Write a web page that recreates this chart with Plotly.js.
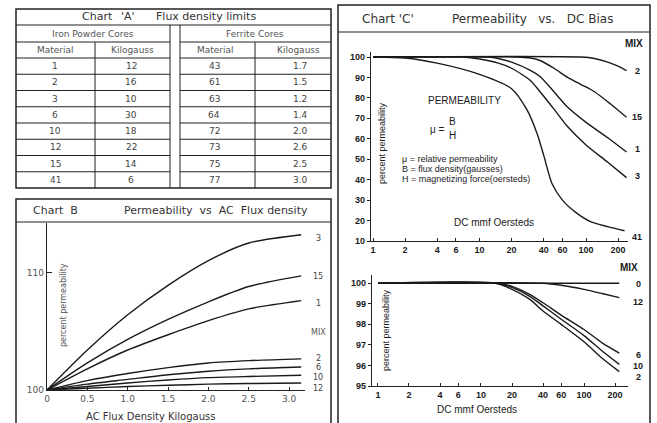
<!DOCTYPE html>
<html><head><meta charset="utf-8">
<script src="https://cdn.plot.ly/plotly-3.0.1.min.js"></script>
<style>html,body{margin:0;padding:0;background:#fff}#c{width:657px;height:423px}</style>
</head><body><div id="c"></div>
<script>
// ---------- Chart A data ----------
const ironMaterial = ['1','2','3','6','10','12','15','41'];
const ironKilogauss = ['12','16','10','30','18','22','14','6'];
const ferriteMaterial = ['43','61','63','64','72','73','75','77'];
const ferriteKilogauss = ['1.7','1.5','1.2','1.4','2.0','2.6','2.5','3.0'];

// ---------- Chart B data (AC flux density, kilogauss) ----------
const bFlux = [0, 0.5, 1.0, 1.5, 2.0, 2.5, 3.15];
const bMix = ['3','15','1','2','6','10','12'];
const bMix3  = [100, 103.4, 106.4, 108.9, 111.0, 112.5, 113.2];
const bMix15 = [100, 102.3, 104.3, 106.0, 107.5, 108.8, 109.7];
const bMix1  = [100, 101.8, 103.4, 104.7, 105.9, 106.9, 107.6];
const bMix2  = [100, 100.8, 101.4, 101.9, 102.3, 102.5, 102.65];
const bMix6  = [100, 100.5, 100.9, 101.3, 101.6, 101.8, 101.95];
const bMix10 = [100, 100.3, 100.6, 100.85, 101.05, 101.15, 101.25];
const bMix12 = [100, 100.15, 100.3, 100.4, 100.5, 100.55, 100.6];
const bXTicks = [0, 0.5, 1, 1.5, 2, 2.5, 3];
const bXTickText = ['0','0.5','1.0','1.5','2.0','2.5','3.0'];

// ---------- Chart C upper data (DC mmf Oersteds) ----------
const cMix2x  = [1, 90, 120, 160, 200, 240];
const cMix2y  = [100, 100, 99.3, 97.5, 95.5, 93.3];
const cMix15x = [1, 22, 30, 37, 50, 67, 90, 120, 170, 240];
const cMix15y = [100, 100, 99.5, 98.3, 94.5, 90, 86.5, 83, 77, 70.5];
const cMix1x  = [1, 12, 15, 20, 30, 37, 50, 67, 100, 160, 240];
const cMix1y  = [100, 100, 99.3, 97.5, 93.5, 90.5, 83, 75.5, 68, 60.5, 53.5];
const cMix3x  = [1, 7, 10, 15, 20, 30, 37, 50, 67, 100, 160, 240];
const cMix3y  = [100, 100, 99, 97, 94.5, 88.5, 83, 74.5, 66, 57, 48.5, 41];
const cMix41x = [1, 2, 4, 10, 20, 28, 35, 40, 48, 60, 80, 110, 160, 230];
const cMix41y = [100, 99.5, 97, 91.5, 84.5, 74, 62, 52, 38, 30, 24, 19.5, 17, 15];
const cXTicks = [1, 2, 4, 6, 10, 20, 40, 60, 100, 200];
const cYTicks = [10, 20, 30, 40, 50, 60, 70, 80, 90, 100];

// ---------- Chart C lower data ----------
const dMix0x  = [1, 220];
const dMix0y  = [100, 100];
const dMix12x = [1, 40, 60, 100, 150, 220];
const dMix12y = [100, 100, 99.9, 99.7, 99.5, 99.3];
const dX = [1, 14, 20, 30, 40, 60, 100, 150, 220];
const dMix6y  = [100, 100, 99.85, 99.45, 99.05, 98.45, 97.75, 97.1, 96.6];
const dMix10y = [100, 100, 99.8, 99.35, 98.9, 98.25, 97.45, 96.7, 96.05];
const dMix2y  = [100, 100, 99.7, 99.2, 98.65, 98.0, 97.15, 96.35, 95.7];
const dYTicks = [95, 96, 97, 98, 99, 100];

// ---------- helpers ----------
const W = 657, H = 423;
const X = p => p / W;
const Y = p => 1 - p / H;
const INK = '#1a1a1a';
const THIN = 'DejaVu Sans, sans-serif';
const HELV = 'Liberation Sans, Arial, sans-serif';

const lineStyle = {color: INK, width: 1.4, shape: 'spline', smoothing: 0.7};
function tr(x, y, ax) {
  return {x: x, y: y, type: 'scatter', mode: 'lines', xaxis: 'x' + ax, yaxis: 'y' + ax,
          line: lineStyle, hoverinfo: 'skip', showlegend: false};
}
const traces = [
  tr(bFlux, bMix3, ''), tr(bFlux, bMix15, ''), tr(bFlux, bMix1, ''),
  tr(bFlux, bMix2, ''), tr(bFlux, bMix6, ''), tr(bFlux, bMix10, ''), tr(bFlux, bMix12, ''),
  tr(cMix2x, cMix2y, '2'), tr(cMix15x, cMix15y, '2'), tr(cMix1x, cMix1y, '2'),
  tr(cMix3x, cMix3y, '2'), tr(cMix41x, cMix41y, '2'),
  tr(dMix0x, dMix0y, '3'), tr(dMix12x, dMix12y, '3'),
  tr(dX, dMix6y, '3'), tr(dX, dMix10y, '3'), tr(dX, dMix2y, '3')
];

const ann = [];
function T(text, x, y, o) {
  o = o || {};
  ann.push({text: text, x: X(x), y: Y(y), xref: 'paper', yref: 'paper', showarrow: false,
    xanchor: o.xanchor || 'center', yanchor: 'middle', textangle: o.angle || 0,
    font: {family: o.family || THIN, size: o.size || 10, color: o.color || '#333', weight: o.weight || 'normal'}});
}
const shapes = [];
function L(x0, y0, x1, y1, w) {
  shapes.push({type: 'line', xref: 'paper', yref: 'paper', x0: X(x0), y0: Y(y0), x1: X(x1), y1: Y(y1),
    line: {color: '#222', width: w || 1}});
}
function R(x0, y0, x1, y1) {
  shapes.push({type: 'rect', xref: 'paper', yref: 'paper', x0: X(x0), y0: Y(y0), x1: X(x1), y1: Y(y1),
    line: {color: '#222', width: 1.5}});
}

// ---------- Chart A table ----------
R(16, 9, 331, 188);
L(16, 25, 331, 25, 1.2);
L(16, 42, 170, 42); L(180, 42, 331, 42);
const rowTop = 58, rowH = 16.25;
for (let k = 0; k < 8; k++) {
  const yy = rowTop + rowH * k;
  L(16, yy, 170, yy); L(180, yy, 331, yy);
}
L(95, 42, 95, 188); L(170, 25, 170, 188); L(180, 25, 180, 188); L(255, 42, 255, 188);
T("Chart", 97, 17, {size: 11}); T("'A'", 128, 17, {size: 11});
T("Flux density limits", 206, 17, {size: 11});
T("Iron Powder Cores", 93, 34, {size: 9, color: '#555'});
T("Ferrite Cores", 255, 34, {size: 9, color: '#555'});
T("Material", 55, 50, {size: 9, color: '#555'}); T("Kilogauss", 132, 50, {size: 9, color: '#555'});
T("Material", 215, 50, {size: 9, color: '#555'}); T("Kilogauss", 298, 50, {size: 9, color: '#555'});
for (let i = 0; i < 8; i++) {
  const rc = rowTop + rowH * (i + 0.5);
  T(ironMaterial[i], 55, rc, {size: 9, color: '#444'});
  T(ironKilogauss[i], 131, rc, {size: 9, color: '#444'});
  T(ferriteMaterial[i], 214, rc, {size: 9, color: '#444'});
  T(ferriteKilogauss[i], 300, rc, {size: 9, color: '#444'});
}

// ---------- Chart B frame & labels ----------
R(16, 199, 331, 427);
L(16, 222, 331, 222, 1.2);
T("Chart  B", 55, 210, {size: 11});
T("Permeability  vs  AC  Flux density", 216, 210, {size: 11});
T("percent permeability", 63, 305, {size: 8, color: '#555', angle: -90});
T("AC Flux Density Kilogauss", 150, 416, {size: 10, color: '#333'});
const bLabY = [238, 276, 303, 358, 367.5, 377, 388];
for (let i = 0; i < bMix.length; i++) T(bMix[i], 318, bLabY[i], {size: 8, color: '#444'});
T("MIX", 318, 332, {size: 8, color: '#555'});

// ---------- Chart C frame & labels ----------
R(338, 5, 650, 427);
L(338, 32, 650, 32, 1.2);
T("Chart 'C'", 388, 19, {size: 12});
T("Permeability   vs.   DC Bias", 532, 19, {size: 12});
T("MIX", 645, 43, {family: HELV, size: 10, color: INK, weight: 'bold', xanchor: 'right'});
const cLab = ['2', '15', '1', '3', '41'];
const cLabY = [71, 117, 149, 176, 237];
for (let i = 0; i < cLab.length; i++) T(cLab[i], 637, cLabY[i], {family: HELV, size: 9, color: INK, weight: 'bold'});
T("percent permeability", 382, 143, {family: HELV, size: 9, color: INK, angle: -90});
T("PERMEABILITY", 464, 100, {family: HELV, size: 10, color: INK});
T("μ =", 437, 129, {family: HELV, size: 10, color: INK});
T("B", 452, 122, {family: HELV, size: 10, color: INK});
T("H", 452, 135, {family: HELV, size: 10, color: INK});
T("μ = relative permeability", 400, 159, {family: HELV, size: 9, color: INK, xanchor: 'left'});
T("B = flux density(gausses)", 400, 169, {family: HELV, size: 9, color: INK, xanchor: 'left'});
T("H = magnetizing force(oersteds)", 400, 179, {family: HELV, size: 9, color: INK, xanchor: 'left'});
T("DC mmf Oersteds", 494, 222, {family: HELV, size: 10, color: INK});

T("MIX", 640, 267, {family: HELV, size: 10, color: INK, weight: 'bold', xanchor: 'right'});
const dLab = ['0', '12', '6', '10', '2'];
const dLabY = [284, 302, 355, 366, 377];
for (let i = 0; i < dLab.length; i++) T(dLab[i], 638, dLabY[i], {family: HELV, size: 9, color: INK, weight: 'bold'});
T("percent permeability", 386, 330, {family: HELV, size: 9, color: INK, angle: -90});
T("DC mmf Oersteds", 477, 409, {family: HELV, size: 10, color: INK});

// ---------- axes ----------
const tfThin = {family: THIN, size: 9, color: '#555'};
const tfBold = {family: HELV, size: 9, color: INK, weight: 'bold'};
const common = {showgrid: false, zeroline: false, showline: true, linecolor: '#222', linewidth: 1.2,
  tickcolor: '#222', tickwidth: 1, fixedrange: true};

const layout = {
  width: W, height: H, margin: {l: 0, r: 0, t: 0, b: 0},
  paper_bgcolor: '#fff', plot_bgcolor: 'rgba(0,0,0,0)', showlegend: false,
  xaxis: Object.assign({}, common, {domain: [X(47), X(305)], range: [0, 3.197], anchor: 'y',
    tickvals: bXTicks, ticktext: bXTickText, ticks: 'inside', ticklen: 3, tickfont: tfThin}),
  yaxis: Object.assign({}, common, {domain: [Y(390), Y(223)], range: [100, 114.2], anchor: 'x',
    tickvals: [100, 110], ticks: 'inside', ticklen: 5, tickfont: tfThin}),
  xaxis2: Object.assign({}, common, {type: 'log', domain: [X(371), X(628)], range: [-0.019, 2.394], anchor: 'y2',
    tickvals: cXTicks, ticktext: cXTicks.map(String), ticks: 'inside', ticklen: 3, tickfont: tfBold}),
  yaxis2: Object.assign({}, common, {domain: [Y(241), Y(52)], range: [10, 102.45], anchor: 'x2',
    tickvals: cYTicks, ticks: 'outside', ticklen: 3, tickfont: tfBold}),
  xaxis3: Object.assign({}, common, {type: 'log', domain: [X(372), X(628)], range: [-0.058, 2.427], anchor: 'y3',
    tickvals: cXTicks, ticktext: cXTicks.map(String), ticks: 'inside', ticklen: 3, tickfont: tfBold}),
  yaxis3: Object.assign({}, common, {domain: [Y(386), Y(275)], range: [95, 100.4], anchor: 'x3',
    tickvals: dYTicks, ticks: 'outside', ticklen: 3, tickfont: tfBold}),
  annotations: ann, shapes: shapes
};
Plotly.newPlot('c', traces, layout, {staticPlot: true, displayModeBar: false});
</script></body></html>
